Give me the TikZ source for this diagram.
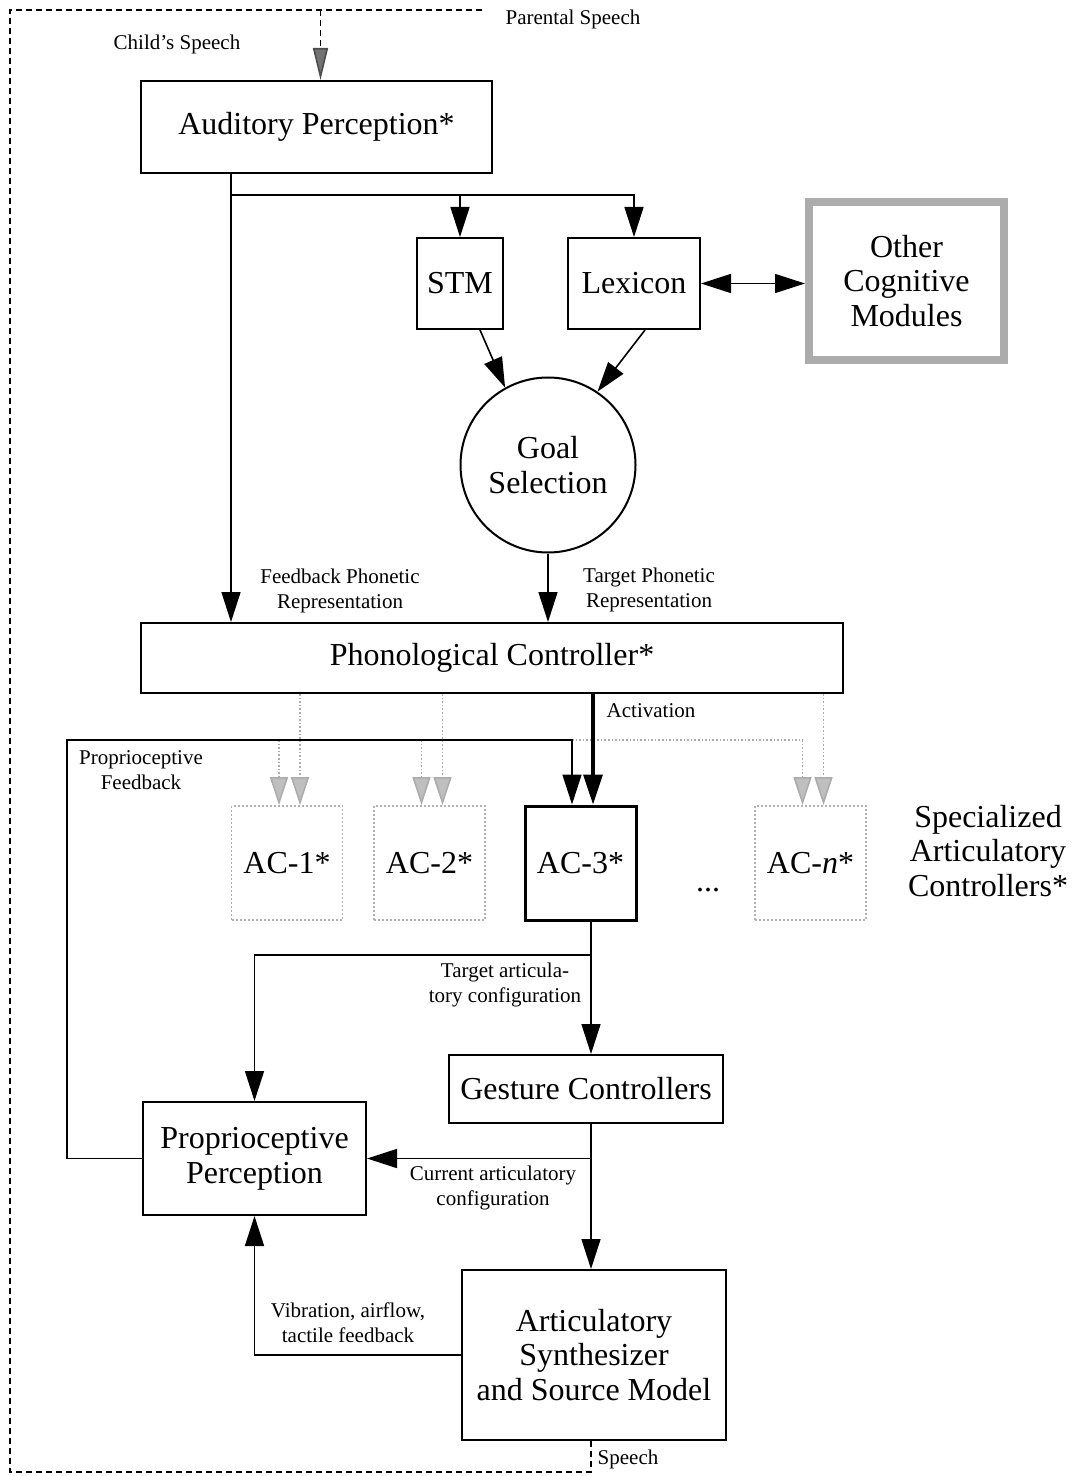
\documentclass[tikz,border=0pt]{standalone}
\usepackage{fontspec}
\setmainfont{Liberation Serif}
\usetikzlibrary{positioning, calc, arrows.meta}

\newcommand{\bigfnt}{\fontsize{16}{17.3}\selectfont}
\newcommand{\smallfnt}{\fontsize{10.5}{12.5}\selectfont}

\begin{document}
\begin{tikzpicture}[
        x=0.5pt, y=-0.5pt,
        >={Triangle[length=15pt, width=9.5pt]},
        box/.style={draw, line width=1pt, inner sep=0pt, align=center, font=\bigfnt},
        acbox/.style={box, minimum width=55.5pt, minimum height=57pt},
        grbox/.style={acbox, draw=gray!60, densely dotted, line width=0.9pt},
        wire/.style={line width=0.8pt},
        gline/.style={draw=gray!65, densely dotted, line width=0.8pt,
                      -{Triangle[length=14pt, width=9pt, fill=gray!50, color=gray!65]}},
        dline/.style={line width=0.8pt, dash pattern=on 3pt off 2pt},
        lbl/.style={align=center, font=\smallfnt},
    ]
        \useasboundingbox (0,0) rectangle (1071,1476);

        % upper half: perception, memory, goal
        \node[box, minimum width=175.5pt, minimum height=46pt] (aud) at (316.5,127) {Auditory Perception*};
        \node[box, minimum width=43pt, minimum height=45.5pt]  (stm) at (460,283.5) {STM};
        \node[box, minimum width=66pt, minimum height=45.5pt]  (lex) at (634,283.5) {Lexicon};
        \node[box, draw=gray!65, line width=4pt, minimum width=97.5pt, minimum height=79pt]
            (ocm) at (906.5,281) {Other\\Cognitive\\Modules};
        \node[box, circle, minimum size=87.5pt] (goal) at (548,465) {Goal\\Selection};
        \node[box, minimum width=351pt, minimum height=35pt] (phon) at (492,658) {Phonological Controller*};

        % articulatory controllers
        \node[grbox] (ac1) at (287,863) {AC-1*};
        \node[grbox] (ac2) at (429.5,863) {AC-2*};
        \node[acbox, line width=1.5pt] (ac3) at (580.5,863) {AC-3*};
        \node[grbox] (acn) at (810.5,863) {AC-\textit{n}*};
        \node[font=\bigfnt] (dots) at (708,890) {...};
        \node[align=center, font=\bigfnt] (sac) at (988,851) {Specialized\\Articulatory\\Controllers*};

        % lower half
        \node[box, minimum width=137pt, minimum height=34pt]  (gest)  at (586,1089) {Gesture Controllers};
        \node[box, minimum width=111.5pt, minimum height=56.5pt] (prop) at (254.5,1158.5) {Proprioceptive\\Perception};
        \node[box, minimum width=132pt, minimum height=85pt]  (synth) at (594,1355) {Articulatory\\Synthesizer\\and Source Model};

        % helper columns and rows
        \coordinate (xfb)  at (231,0);
        \coordinate (ybr)  at (0,195);
        \coordinate (xact) at (593,0);
        \coordinate (xpf)  at (67,0);
        \coordinate (ypf)  at (0,740);
        \coordinate (xpf3) at (572,0);
        \coordinate (xmid) at (591,0);
        \coordinate (ytgt) at (0,955);
        \coordinate (cbl)  at (10,1472);
        \coordinate (ctr)  at (482,10);

        % speech loop (dashed)
        \draw[dline] (synth.south -| xmid) |- (cbl) |- (ctr);
        \draw[dline, -{Triangle[length=16pt, width=7.5pt, fill=black!55, color=black!70]}]
            ([xshift=2pt]aud.north |- ctr) -- ([xshift=2pt]aud.north);
        \node[lbl] (pspeech) at (573,19) {Parental Speech};
        \node[lbl] (cspeech) at (177,44) {Child’s Speech};
        \node[lbl] (speech)  at (628,1459) {Speech};

        % auditory feedback and memory
        \draw[wire, ->] (aud.south -| xfb) -- (phon.north -| xfb);
        \draw[wire, ->] (xfb |- ybr) -| (lex.north);
        \draw[wire, ->] (stm.north |- ybr) -- (stm.north);
        \draw[wire, <->] (lex.east) -- (lex.east -| ocm.west);
        \draw[wire, ->] ([xshift=10pt]stm.south) -- (goal.119);
        \draw[wire, ->] ([xshift=5.5pt]lex.south) -- (goal.56);
        \draw[wire, ->] (goal.south) -- (goal.south |- phon.north);
        \node[lbl] (fbl) at (340,591) {Feedback Phonetic\\Representation};
        \node[lbl] (tgl) at (649,590) {Target Phonetic\\Representation};

        % activation and proprioceptive feedback
        \foreach \ac in {ac1, ac2, acn}
            \draw[gline] ([xshift=6.5pt]\ac.north |- phon.south) -- ([xshift=6.5pt]\ac.north);
        \foreach \ac in {ac1, ac2}
            \draw[gline] ([xshift=-4pt]\ac.north |- ypf) -- ([xshift=-4pt]\ac.north);
        \draw[gline] (xpf3 |- ypf) -| ([xshift=-4pt]acn.north);
        \draw[wire, ->] (prop.west) -| (xpf |- ypf) -| (ac3.north -| xpf3);
        \draw[line width=1.6pt, ->] (phon.south -| xact) -- (ac3.north -| xact);
        \node[lbl] (actl) at (651,711) {Activation};
        \node[lbl] (pfl) at (141,770) {Proprioceptive\\Feedback};

        % articulation
        \draw[wire, ->] (ac3.south -| xmid) -- (gest.north -| xmid);
        \draw[wire, ->] (xmid |- ytgt) -| (prop.north);
        \draw[wire, ->] (gest.south -| xmid) -- (synth.north -| xmid);
        \draw[wire, ->] (xmid |- prop.east) -- (prop.east);
        \draw[wire, ->] (synth.west) -| (prop.south);
        \node[lbl] (tacl) at (505,985) {Target articula-\\tory configuration};
        \node[lbl] (cacl) at (493,1188) {Current articulatory\\configuration};
        \node[lbl] (vibl) at (348,1323) {Vibration, airflow,\\tactile feedback};
    \end{tikzpicture}
\end{document}
